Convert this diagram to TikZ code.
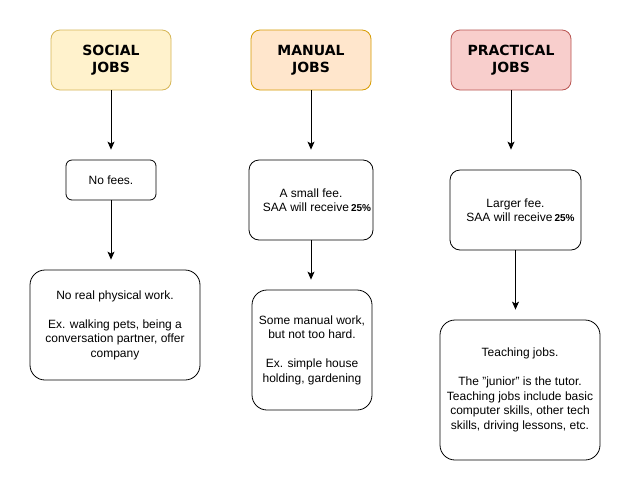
\documentclass[tikz,border=0pt]{standalone}
\usepackage{fontspec}
\setmainfont{Liberation Sans}
\newfontfamily\headfont{DejaVu Sans}
\usetikzlibrary{arrows.meta}

\definecolor{socialfill}{HTML}{FFF2CC}
\definecolor{socialdraw}{HTML}{D6B656}
\definecolor{manualfill}{HTML}{FFE6CC}
\definecolor{manualdraw}{HTML}{D79B00}
\definecolor{practfill}{HTML}{F8CECC}
\definecolor{practdraw}{HTML}{B85450}

\newcommand\sharetext{\hspace{2pt}{\bfseries\fontsize{10}{12}\selectfont 25\%}}

\tikzset{
  jobhead/.style={draw, line width=0.8pt, rounded corners=9pt,
    minimum width=120pt, minimum height=60pt, align=center,
    font=\headfont\bfseries\fontsize{14}{17}\selectfont},
  infobox/.style={draw, line width=0.8pt, align=center, inner sep=0pt,
    font=\fontsize{12}{14.5}\selectfont},
  jobarrow/.style={-{Stealth[length=8pt,width=7pt,inset=2pt]}, line width=0.8pt}
}

\begin{document}
\begin{tikzpicture}[x=1pt, y=-1pt]
   \fill[white] (0, 0) rectangle (631, 491);
   \useasboundingbox (0, 0) rectangle (631, 491);

   % headers
   \node[jobhead, fill=socialfill, draw=socialdraw] (social) at (111, 60) {SOCIAL\\JOBS};
   \node[jobhead, fill=manualfill, draw=manualdraw] (manual) at (311, 60) {\raisebox{1.5pt}{MANUAL}\\\raisebox{1.5pt}{JOBS}};
   \node[jobhead, fill=practfill, draw=practdraw] (practical) at (511, 60) {\raisebox{-1.5pt}{PRACTICAL}\\\raisebox{-1.5pt}{JOBS}};

   % fees
   \node[infobox, rounded corners=6pt, minimum width=90pt, minimum height=40pt]
     (socialfee) at (111, 180) {No fees.};
   \node[infobox, rounded corners=10pt, minimum width=124pt, minimum height=80pt]
     (manualfee) at (311, 200) {A small fee.\\ \hspace*{12pt}SAA will receive\sharetext};
   \node[infobox, rounded corners=10pt, minimum width=131pt, minimum height=80pt]
     (practfee) at (515.5, 210) {Larger fee.\\ \hspace*{10pt}SAA will receive\sharetext};

   % kind of work
   \node[infobox, rounded corners=15pt, minimum width=170pt, minimum height=110pt]
     (socialwork) at (115, 325) {No real physical work.\\[14.5pt]
       Ex. walking pets, being a\\ conversation partner, offer\\ company};
   \node[infobox, rounded corners=15pt, minimum width=120pt, minimum height=120pt]
     (manualwork) at (312, 350) {Some manual work,\\ but not too hard.\\[14.5pt]
       Ex. simple house\\ holding, gardening};
   \node[infobox, rounded corners=15pt, minimum width=160pt, minimum height=140pt]
     (practwork) at (520, 390) {Teaching jobs.\\[14.5pt]
       The "junior" is the tutor.\\ Teaching jobs include basic\\
       computer skills, other tech\\ skills, driving lessons, etc.};

   \draw[jobarrow, shorten >=10pt] (social) -- (socialfee);
   \draw[jobarrow, shorten >=10pt] (manual) -- (manualfee);
   \draw[jobarrow, shorten >=20pt] (practical.south) -- (practical.south |- practfee.north);
   \draw[jobarrow, shorten >=10pt] (socialfee.south) -- (socialfee.south |- socialwork.north);
   \draw[jobarrow, shorten >=10pt] (manualfee.south) -- (manualfee.south |- manualwork.north);
   \draw[jobarrow, shorten >=10pt] (practfee.south) -- (practfee.south |- practwork.north);
  \end{tikzpicture}
\end{document}
